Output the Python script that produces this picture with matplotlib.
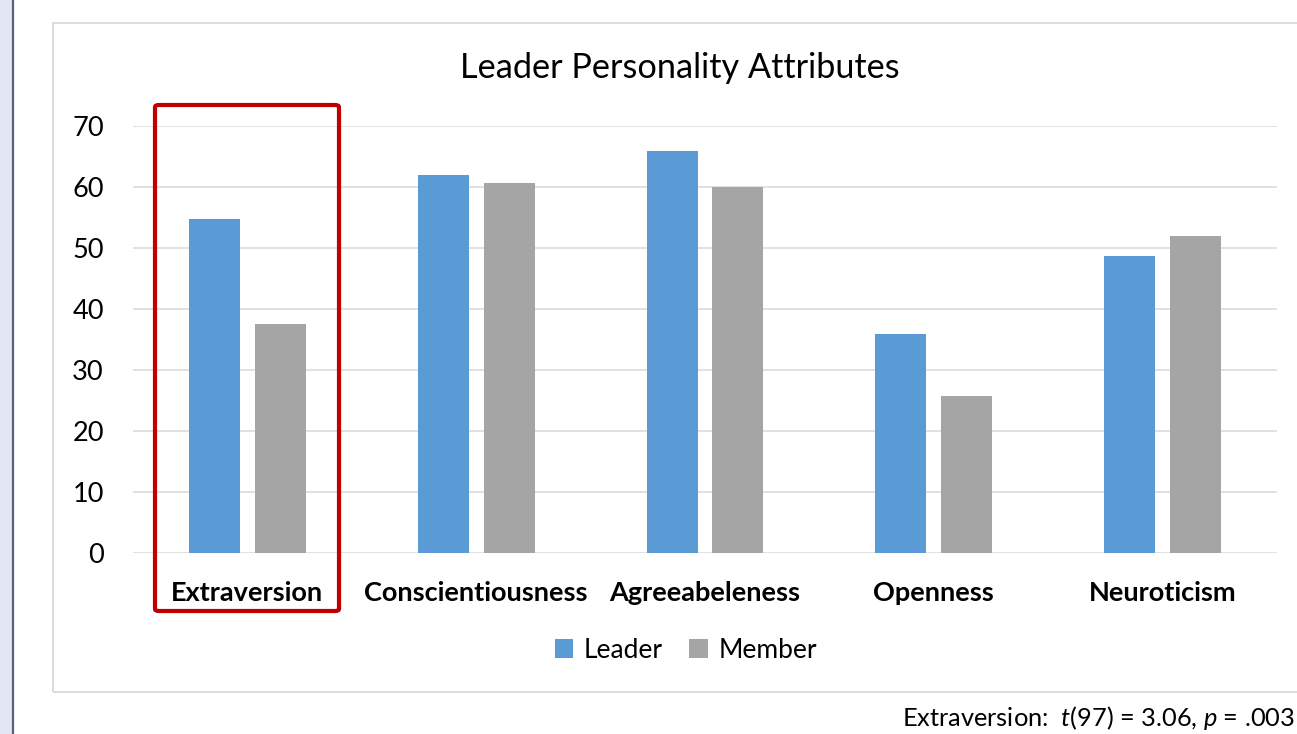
import numpy as np
import matplotlib
matplotlib.use("Agg")
import matplotlib.pyplot as plt
from matplotlib.patches import Rectangle, FancyBboxPatch
from matplotlib.lines import Line2D

# 字体：Lato 近似 Calibri
plt.rcParams["font.family"] = ["Lato", "DejaVu Sans"]
plt.rcParams["mathtext.fontset"] = "custom"
plt.rcParams["mathtext.rm"] = "Lato"
plt.rcParams["mathtext.it"] = "Lato:italic"

# 数据
categories = ["Extraversion", "Conscientiousness", "Agreeabeleness", "Openness", "Neuroticism"]
leader = [54.8, 62.0, 65.9, 35.9, 48.7]
member = [37.5, 60.7, 60.0, 25.7, 52.0]
yticks = [0, 10, 20, 30, 40, 50, 60, 70]

W, H = 1297, 734
fig = plt.figure(figsize=(W / 100, H / 100), dpi=100)
fig.patch.set_facecolor("white")

# 左侧边栏
fig.patches.append(Rectangle((0, 0), 12 / W, 1, transform=fig.transFigure,
                             facecolor="#E3E7F3", edgecolor="none", zorder=0))
fig.lines.append(Line2D([13 / W, 13 / W], [0, 1], transform=fig.transFigure,
                        color="#56627A", linewidth=1.6))

# 图表外框
fig.patches.append(Rectangle((53 / W, 1 - 692 / H), (1310 - 53) / W, (692 - 23) / H,
                             transform=fig.transFigure, facecolor="none",
                             edgecolor="#D9D9D9", linewidth=1.3, zorder=1))

ax = fig.add_axes([133 / W, 1 - 553 / H, 1144 / W, 427 / H])
x = np.arange(len(categories))
bw = 0.223
ax.bar(x - 0.144, leader, width=bw, color="#5B9BD5", label="Leader", zorder=3)
ax.bar(x + 0.144, member, width=bw, color="#A5A5A5", label="Member", zorder=3)

ax.set_xlim(-0.5, len(categories) - 0.5)
ax.set_ylim(0, 70)
ax.set_yticks(yticks)
ax.set_xticks(x)
ax.set_xticklabels(categories, fontweight="bold", fontsize=19.5)
ax.tick_params(axis="y", length=0, pad=21, labelsize=19.5)
ax.tick_params(axis="x", length=0, pad=20)
ax.grid(axis="y", color="#D9D9D9", linewidth=1.1, zorder=0)
ax.set_axisbelow(True)
for s in ax.spines.values():
    s.set_visible(False)

fig.text(680 / W, 1 - 68 / H, "Leader Personality Attributes", ha="center", va="center", fontsize=24.7)

fig.legend(loc="center", bbox_to_anchor=(686 / W, 1 - 650 / H), ncol=2, frameon=False,
           fontsize=19, handlelength=0.7, handleheight=0.7, handletextpad=0.4,
           columnspacing=1.0)

# 红框
fig.patches.append(FancyBboxPatch((155 / W, 1 - 611 / H), (339 - 155) / W, (611 - 105) / H,
                                  boxstyle="round,pad=0,rounding_size=0.003",
                                  transform=fig.transFigure, facecolor="none",
                                  edgecolor="#C00000", linewidth=3.0, zorder=5))

fig.text(1295 / W, 1 - 718 / H, "Extraversion:  $t$(97) = 3.06, $p$ = .003",
         ha="right", va="center", fontsize=18.3)

fig.savefig("out.png", dpi=100)
